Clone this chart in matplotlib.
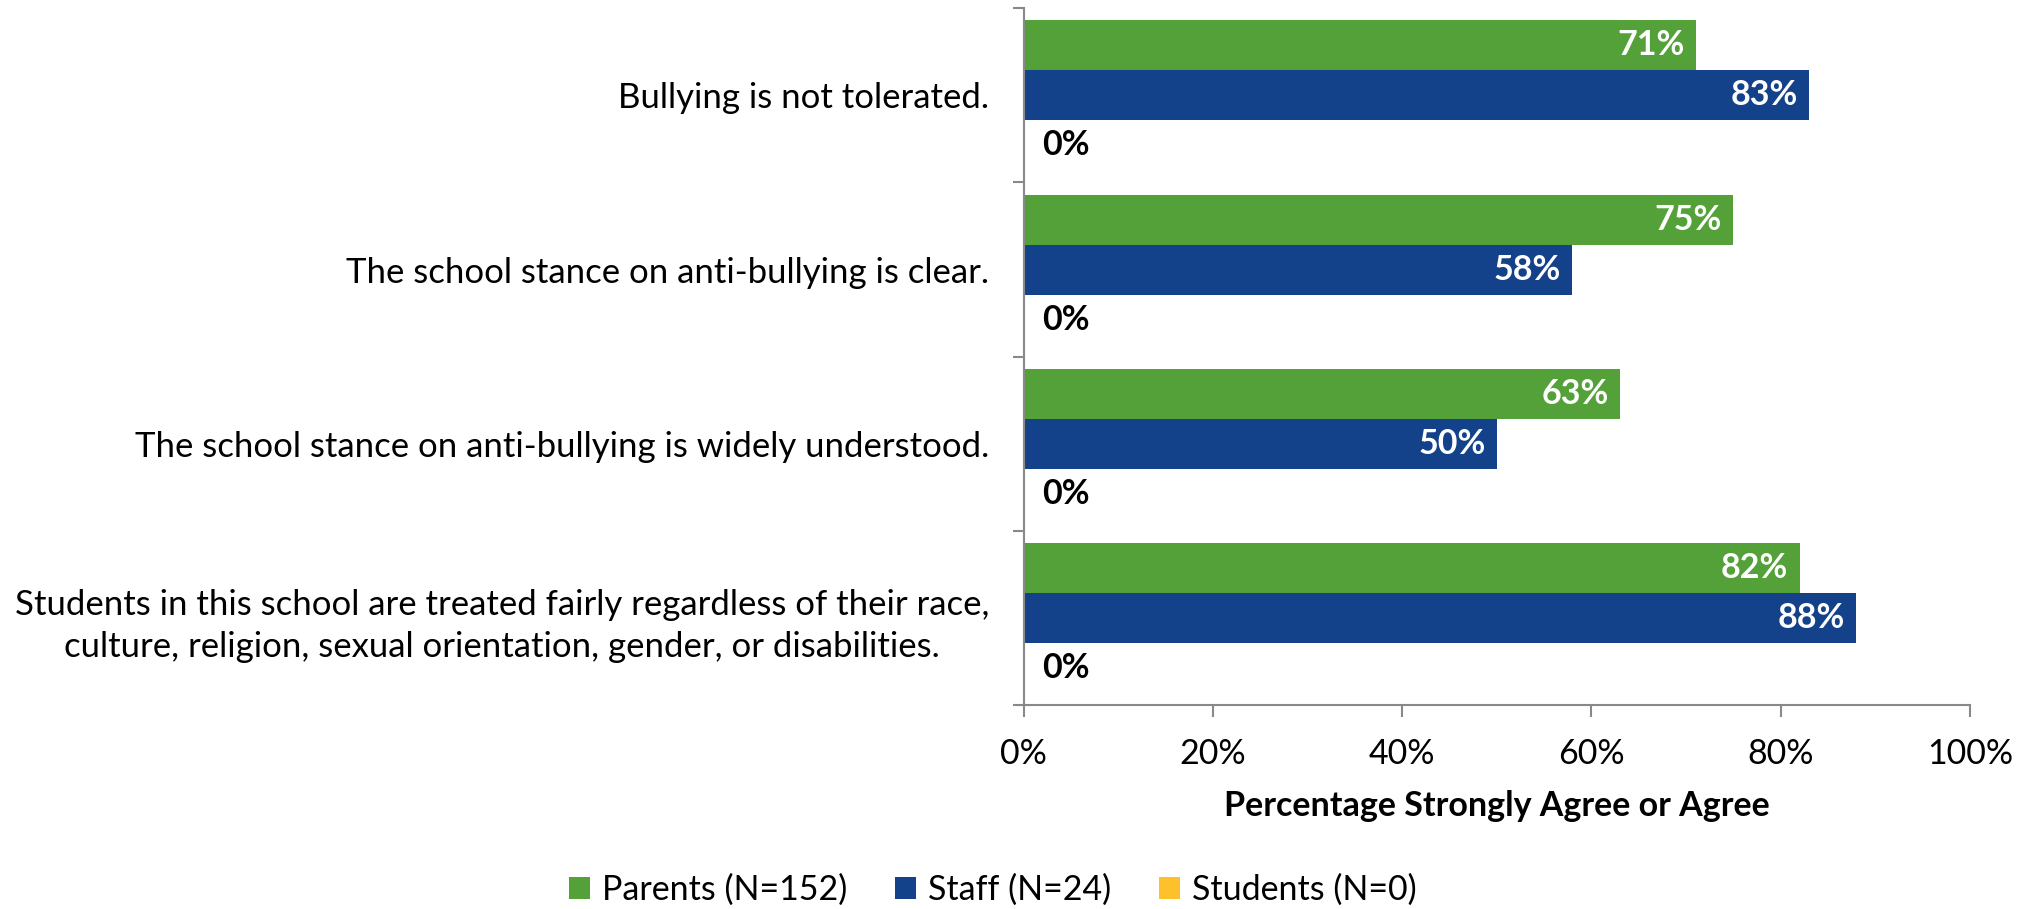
import matplotlib.pyplot as plt
from matplotlib.patches import Patch

plt.rcParams['font.family'] = ['Lato', 'DejaVu Sans']

questions = [
    'Bullying is not tolerated.',
    'The school stance on anti-bullying is clear.',
    'The school stance on anti-bullying is widely understood.',
    'Students in this school are treated fairly regardless of their race,\n'
    'culture, religion, sexual orientation, gender, or disabilities.',
]
groups = ['Parents (N=152)', 'Staff (N=24)', 'Students (N=0)']
parents = [71, 75, 63, 82]
staff = [83, 58, 50, 88]
students = [0, 0, 0, 0]
colors = ['#55A139', '#14428A', '#FFC12B']

fs = 24.5
gray = '#898989'

fig = plt.figure(figsize=(20.35, 9.09), dpi=100)
ax = fig.add_axes([1023.5 / 2035, 1 - 705 / 909, (1970 - 1023.5) / 2035, (705 - 8.3) / 909])

h = 0.287
series = [parents, staff, students]
for k, (vals, col) in enumerate(zip(series, colors)):
    ys = [i + (k - 1) * h for i in range(len(questions))]
    ax.barh(ys, vals, height=h, color=col, edgecolor='none')
    for y, v in zip(ys, vals):
        if v > 0:
            ax.text(v - 1.2, y, f'{v}%', ha='right', va='center', color='white',
                    fontsize=fs, fontweight='bold')
        else:
            ax.text(2.0, y, f'{v}%', ha='left', va='center', color='black',
                    fontsize=fs, fontweight='bold')

ax.set_ylim(len(questions) - 0.5, -0.5)
ax.set_xlim(0, 100)
ax.set_xticks(range(0, 101, 20))
ax.set_xticklabels([f'{t}%' for t in range(0, 101, 20)], fontsize=fs)
ax.set_yticks(range(len(questions)))
ax.set_yticklabels(questions, fontsize=25, ha='right', multialignment='center',
                   linespacing=1.38)
ax.set_yticks([i - 0.5 for i in range(len(questions) + 1)], minor=True)
ax.tick_params(axis='y', which='major', length=0, pad=24.5)
ax.tick_params(axis='y', which='minor', length=8, width=1.5, color=gray, direction='out')
ax.tick_params(axis='x', length=8.5, width=1.5, color=gray, direction='out', pad=15)

for s in ['top', 'right']:
    ax.spines[s].set_visible(False)
for s in ['left', 'bottom']:
    ax.spines[s].set_color(gray)
    ax.spines[s].set_linewidth(1.5)

fig.text(1496.5 / 2035, 1 - 806 / 909, 'Percentage Strongly Agree or Agree',
         ha='center', va='center', fontsize=fs, fontweight='bold')

handles = [Patch(facecolor=c, edgecolor='none') for c in colors]
fig.legend(handles, groups, loc='center', bbox_to_anchor=(993 / 2035, 1 - 890 / 909),
           ncol=3, frameon=False, fontsize=fs, handlelength=0.62, handleheight=0.62,
           handletextpad=0.35, columnspacing=1.4)

fig.savefig('out.png', dpi=100)
